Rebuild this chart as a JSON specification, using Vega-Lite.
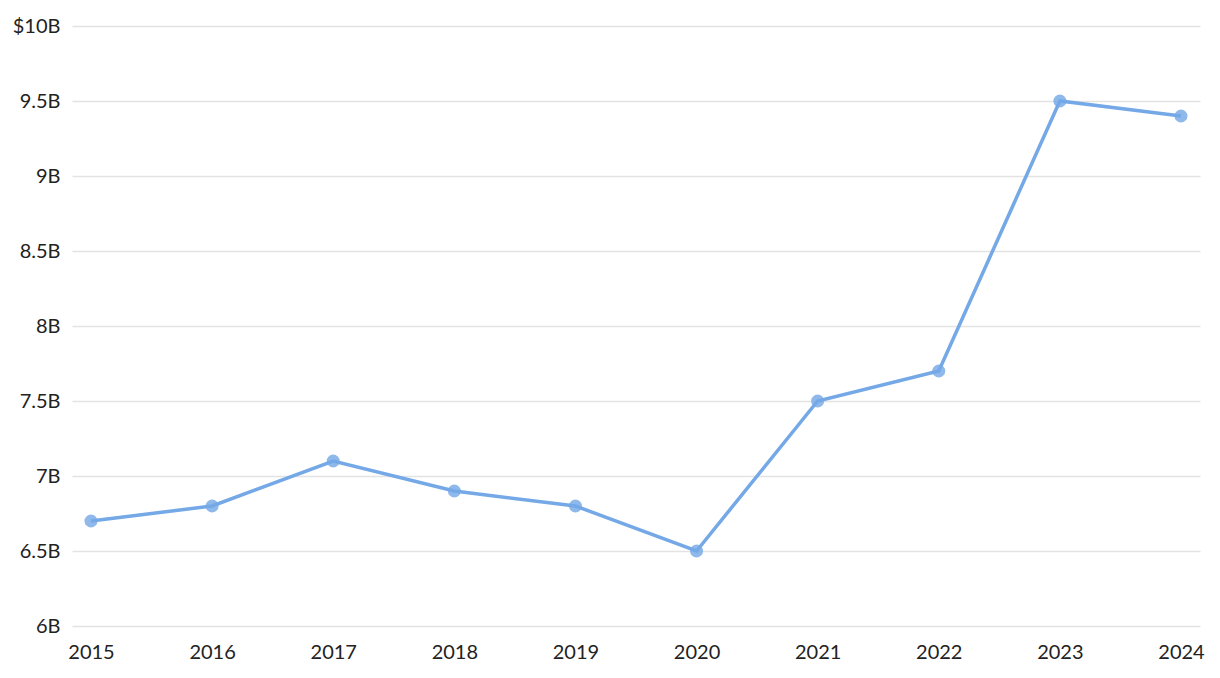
{
  "$schema": "https://vega.github.io/schema/vega-lite/v6.json",
  "width": 1128,
  "height": 600,
  "autosize": {"type": "none"},
  "padding": {"left": 72, "top": 26, "right": 20, "bottom": 52},
  "config": {"view": {"stroke": null}, "font": "Lato"},
  "data": {"values": [
    {"year": "2015", "value": 6.7},
    {"year": "2016", "value": 6.8},
    {"year": "2017", "value": 7.1},
    {"year": "2018", "value": 6.9},
    {"year": "2019", "value": 6.8},
    {"year": "2020", "value": 6.5},
    {"year": "2021", "value": 7.5},
    {"year": "2022", "value": 7.7},
    {"year": "2023", "value": 9.5},
    {"year": "2024", "value": 9.4}
  ]},
  "encoding": {
    "x": {"field": "year", "type": "ordinal", "scale": {"type": "point", "padding": 0.157},
      "axis": {"title": null, "labelAngle": 0, "domain": false, "ticks": false, "grid": false, "labelFontSize": 20, "labelColor": "#222", "labelPadding": 16}},
    "y": {"field": "value", "type": "quantitative", "scale": {"domain": [6, 10], "nice": false, "zero": false},
      "axis": {"title": null, "values": [6, 6.5, 7, 7.5, 8, 8.5, 9, 9.5, 10], "domain": false, "ticks": false, "gridColor": "#e3e3e3", "gridWidth": 1.5, "labelFontSize": 20, "labelColor": "#222", "labelPadding": 12,
        "labelExpr": "datum.value == 10 ? '$10B' : format(datum.value, '~g') + 'B'"}}
  },
  "layer": [
    {"mark": {"type": "line", "color": "#74a8e6", "strokeWidth": 3.5}},
    {"mark": {"type": "circle", "color": "#74a8e6", "size": 170, "opacity": 0.8}}
  ]
}
